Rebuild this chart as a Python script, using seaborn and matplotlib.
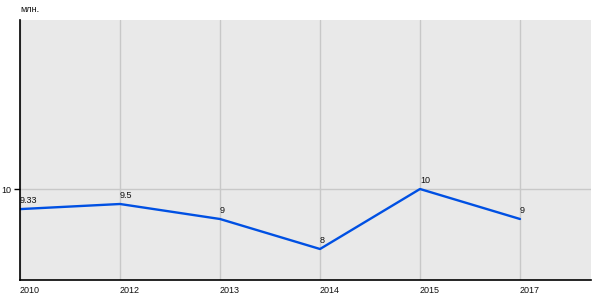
import matplotlib
matplotlib.use("Agg")
import matplotlib.pyplot as plt
import seaborn as sns
import pandas as pd

years = ["2010", "2012", "2013", "2014", "2015", "2017"]
values = [9.33, 9.5, 9, 8, 10, 9]
labels = ["9.33", "9.5", "9", "8", "10", "9"]
y_ticks = [10]
unit = "млн."

sns.set_theme(style="white")
plt.rcParams['font.family'] = ['Liberation Sans', 'DejaVu Sans']

df = pd.DataFrame({"year": years, "value": values})

fig = plt.figure(figsize=(6, 3), dpi=100)
ax = fig.add_axes([20/600, 20/300, 571/600, 260/300])
ax.set_facecolor("#e9e9e9")

sns.lineplot(data=df, x="year", y="value", ax=ax, color="#0050e3",
             linewidth=1.7, sort=False)

for i, (v, lab) in enumerate(zip(values, labels)):
    ax.annotate(lab, (i, v), xytext=(0, 3), textcoords="offset points",
                ha="left", va="bottom", fontsize=6.5, color="#111111")

ax.set_xlim(0, 5.71)
ax.set_ylim(6.967, 15.633)
ax.set_yticks(y_ticks)
ax.set_yticklabels([str(t) for t in y_ticks])
ax.set_xticks(range(len(years)))
ax.set_xticklabels(years)
ax.grid(True, color="#c8c8c8", linewidth=1)
ax.set_axisbelow(True)
ax.set_xlabel("")
ax.set_ylabel("")

for s in ["top", "right"]:
    ax.spines[s].set_visible(False)
for s in ["left", "bottom"]:
    ax.spines[s].set_visible(True)
    ax.spines[s].set_color("black")
    ax.spines[s].set_linewidth(1.2)

ax.tick_params(axis="y", length=4, width=1, color="black", labelsize=6.5, pad=2, left=True,
               labelcolor="#111111")
ax.tick_params(axis="x", length=0, labelsize=6.5, pad=4, labelcolor="#111111")
for lbl in ax.get_xticklabels():
    lbl.set_horizontalalignment("left")

ax.text(0, 1.025, unit, transform=ax.transAxes, ha="left", va="bottom", fontsize=6.5, color="#111111")

fig.savefig("out.png", dpi=100, facecolor="white")
